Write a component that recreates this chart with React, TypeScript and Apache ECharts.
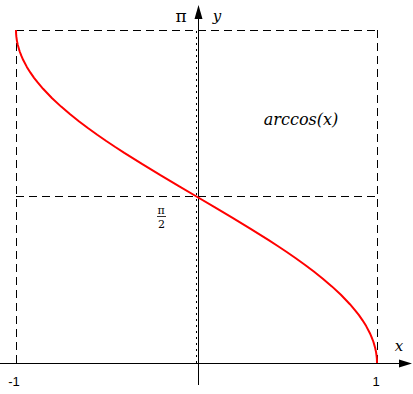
import React, { useEffect, useRef } from "react";
import * as echarts from "echarts";

// x values and arccos(x) values
const xValues = [
  -1, -0.9995, -0.999, -0.998, -0.995, -0.99, -0.98, -0.97, -0.96, -0.94, -0.92, -0.9, -0.88, -0.85,
  -0.8, -0.75, -0.7, -0.65, -0.6, -0.55, -0.5, -0.45, -0.4, -0.3, -0.2, -0.1, 0,
  0.1, 0.2, 0.3, 0.4, 0.45, 0.5, 0.55, 0.6, 0.65, 0.7, 0.75, 0.8, 0.85, 0.88, 0.9, 0.92, 0.94,
  0.96, 0.97, 0.98, 0.99, 0.995, 0.998, 0.999, 0.9995, 1,
];
const yValues = [
  3.14159, 3.10997, 3.09687, 3.07833, 3.04155, 3.00005, 2.94126, 2.89661, 2.8578, 2.79342, 2.73887,
  2.69057, 2.64701, 2.58678, 2.49809, 2.41886, 2.34619, 2.27838, 2.2143, 2.15316, 2.0944, 2.03756,
  1.98231, 1.87549, 1.77215, 1.67096, 1.5708,
  1.47063, 1.36944, 1.2661, 1.15928, 1.10403, 1.0472, 0.98843, 0.9273, 0.86321, 0.7954, 0.72273,
  0.6435, 0.55481, 0.49458, 0.45103, 0.40272, 0.34817, 0.28379, 0.24498, 0.20033, 0.14154, 0.10004,
  0.06326, 0.04472, 0.03162, 0,
];
const PI = 3.14159265;
const xGuides = [-1, 1];
const yGuides = [PI, PI / 2];

export default function App() {
  const ref = useRef<HTMLDivElement>(null);
  useEffect(() => {
    const chart = echarts.init(ref.current!, null, { renderer: "svg" });
    const data = xValues.map((x, i) => [x, yValues[i]]);
    const dash = { color: "#000", width: 1, type: [8, 5] as any };
    const txt = (x: number, y: number, text: string, size: number, italic: boolean, family = "DejaVu Serif") => ({
      type: "text",
      x,
      y,
      style: {
        text,
        fontSize: size,
        fontFamily: family,
        fontStyle: italic ? "italic" : "normal",
        fill: "#000",
        align: "center",
        verticalAlign: "middle",
      },
    });
    chart.setOption({
      animation: false,
      grid: { left: 16, right: 36, top: 30, bottom: 31 },
      xAxis: {
        type: "value",
        min: -1,
        max: 1,
        axisLine: { show: false },
        axisTick: { show: false },
        axisLabel: { show: false },
        splitLine: { show: false },
      },
      yAxis: {
        type: "value",
        min: 0,
        max: PI,
        axisLine: { show: false },
        axisTick: { show: false },
        axisLabel: { show: false },
        splitLine: { show: false },
      },
      graphic: [
        // y axis
        { type: "line", shape: { x1: 198.5, y1: 14, x2: 198.5, y2: 385 }, style: { stroke: "#000", lineWidth: 1 } },
        { type: "polygon", shape: { points: [[198.5, 5], [194.5, 19], [202.5, 19]] }, style: { fill: "#000" } },
        // x axis
        { type: "line", shape: { x1: 0, y1: 363.5, x2: 404, y2: 363.5 }, style: { stroke: "#000", lineWidth: 1 } },
        { type: "polygon", shape: { points: [[412, 363.5], [399, 359.5], [399, 367.5]] }, style: { fill: "#000" } },
        txt(181, 16, "π", 17, false),
        txt(217, 16, "y", 15, true),
        txt(301, 119, "arccos(x)", 16, true),
        txt(399, 346, "x", 15, true),
        txt(161, 210, "π", 11, false),
        { type: "line", shape: { x1: 157, y1: 216.5, x2: 166, y2: 216.5 }, style: { stroke: "#000", lineWidth: 0.8 } },
        txt(161.5, 224, "2", 11, false),
        txt(14, 381, "-1", 13, false, "Liberation Sans"),
        txt(376, 381, "1", 13, false, "Liberation Sans"),
      ],
      series: [
        {
          type: "line",
          data,
          showSymbol: false,
          symbol: "none",
          lineStyle: { color: "#ff0000", width: 2 },
          z: 5,
          markLine: {
            silent: true,
            symbol: "none",
            label: { show: false },
            lineStyle: dash,
            data: [
              ...xGuides.map((x) => [{ coord: [x, 0] }, { coord: [x, PI] }]),
              ...yGuides.map((y) => [{ coord: [-1, y] }, { coord: [1, y] }]),
              [
                { coord: [0, 0], lineStyle: { type: [2, 4], width: 1 } },
                { coord: [0, PI] },
              ],
            ],
          },
        },
      ],
    });
    return () => chart.dispose();
  }, []);
  return <div ref={ref} style={{ width: 413, height: 394, position: "absolute", left: 0, top: 0 }} />;
}
